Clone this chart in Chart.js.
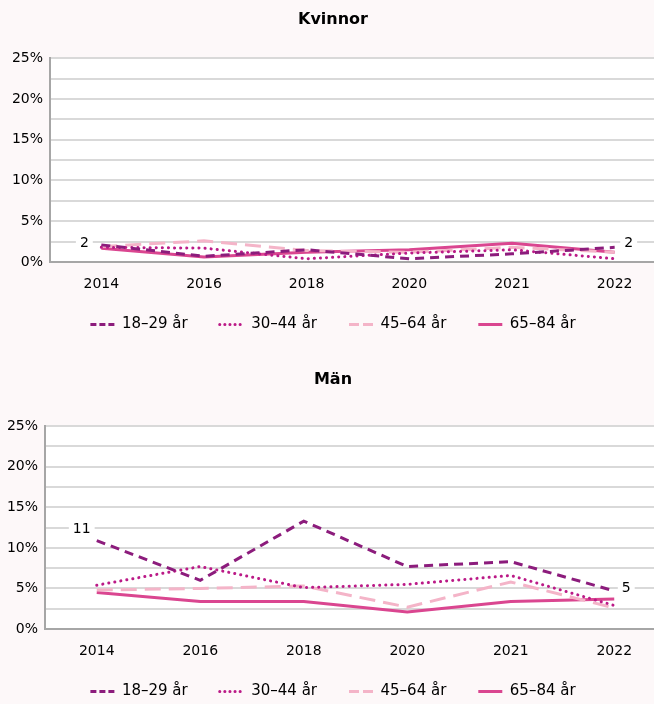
<!DOCTYPE html>
<html>
<head>
<meta charset="utf-8">
<script src="https://cdn.jsdelivr.net/npm/chart.js@4/dist/chart.umd.min.js"></script>
<style>
  html, body { margin: 0; padding: 0; }
  body { width: 654px; height: 704px; overflow: hidden; position: relative; background: #fdf8f9; }
  canvas { position: absolute; left: 0; }
  #c1 { top: 0; }
  #c2 { top: 360px; }
</style>
</head>
<body>
<canvas id="c1" width="666" height="342"></canvas>
<canvas id="c2" width="666" height="349"></canvas>
<script>
const years = ['2014', '2016', '2018', '2020', '2021', '2022'];
const seriesNames = ['18–29 år', '30–44 år', '45–64 år', '65–84 år'];

// Kvinnor (%)
const kvinnor_18_29 = [2.1, 0.7, 1.5, 0.4, 1.0, 1.8];
const kvinnor_30_44 = [1.8, 1.7, 0.4, 1.1, 1.5, 0.4];
const kvinnor_45_64 = [1.9, 2.6, 1.4, 1.2, 1.8, 1.2];
const kvinnor_65_84 = [1.7, 0.6, 1.2, 1.5, 2.3, 1.2];

// Män (%)
const man_18_29 = [10.9, 6.0, 13.3, 7.7, 8.3, 4.7];
const man_30_44 = [5.4, 7.7, 5.1, 5.5, 6.6, 2.9];
const man_45_64 = [4.8, 5.0, 5.3, 2.7, 5.8, 2.6];
const man_65_84 = [4.5, 3.4, 3.4, 2.1, 3.4, 3.7];

const yTicksMax = 25;
const yStep = 2.5;

const FONT = "'DejaVu Sans', Verdana, sans-serif";

const styles = [
  { color: '#8c1c7c', dash: [9, 6], legendDash: [6, 3], width: 3, cap: 'butt' },
  { color: '#bb1a87', dash: [0.1, 6], legendDash: [0.1, 5], width: 3, cap: 'round' },
  { color: '#f4b4c8', dash: [16, 8], legendDash: [10, 4], width: 3, cap: 'butt' },
  { color: '#da4690', dash: [], legendDash: [], width: 3, cap: 'butt' }
];

function makeDatasets(arrs) {
  return arrs.map((d, i) => ({
    label: seriesNames[i],
    data: d,
    borderColor: styles[i].color,
    backgroundColor: styles[i].color,
    borderDash: styles[i].dash,
    borderWidth: styles[i].width,
    borderCapStyle: styles[i].cap,
    pointRadius: 0,
    pointHoverRadius: 0,
    pointStyle: 'line',
    tension: 0,
    fill: false
  }));
}

const plotBg = {
  id: 'plotBg',
  beforeDraw(chart) {
    const a = chart.chartArea;
    const ctx = chart.ctx;
    ctx.save();
    ctx.fillStyle = '#ffffff';
    ctx.fillRect(a.left, a.top, a.right - a.left, a.bottom - a.top);
    ctx.restore();
  }
};

const endLabels = {
  id: 'endLabels',
  afterDatasetsDraw(chart, args, opts) {
    const ctx = chart.ctx;
    (opts.items || []).forEach(it => {
      const meta = chart.getDatasetMeta(it.ds);
      const pt = meta.data[it.idx];
      const v = chart.data.datasets[it.ds].data[it.idx];
      const txt = String(Math.round(v));
      ctx.save();
      ctx.font = '14px ' + FONT;
      const w = ctx.measureText(txt).width;
      const cx = pt.x + it.dx, cy = pt.y + it.dy;
      ctx.fillStyle = '#ffffff';
      ctx.fillRect(cx - w / 2 - 4, cy - 9, w + 8, 18);
      ctx.fillStyle = '#000000';
      ctx.textAlign = 'center';
      ctx.textBaseline = 'middle';
      ctx.fillText(txt, cx, cy);
      ctx.restore();
    });
  }
};

function makeChart(id, title, arrs, axisWidth, titlePad, labelItems) {
  return new Chart(document.getElementById(id), {
    type: 'line',
    data: { labels: years, datasets: makeDatasets(arrs) },
    plugins: [plotBg, endLabels],
    options: {
      responsive: false,
      animation: false,
      devicePixelRatio: 1,
      layout: { padding: 0 },
      plugins: {
        tooltip: { enabled: false },
        title: {
          display: true,
          text: title,
          color: '#000000',
          font: { family: FONT, size: 16, weight: 'bold' },
          padding: titlePad
        },
        legend: {
          position: 'bottom',
          labels: {
            color: '#000000',
            font: { family: FONT, size: 15 },
            usePointStyle: true,
            pointStyleWidth: 24,
            boxHeight: 15,
            padding: 32,
            generateLabels(chart) {
              return chart.data.datasets.map((ds, i) => ({
                text: ds.label,
                datasetIndex: i,
                fillStyle: ds.borderColor,
                strokeStyle: ds.borderColor,
                lineWidth: ds.borderWidth,
                lineDash: styles[i].legendDash,
                lineCap: ds.borderCapStyle,
                pointStyle: 'line',
                fontColor: '#000000',
                hidden: false
              }));
            }
          }
        },
        endLabels: { items: labelItems }
      },
      scales: {
        x: {
          type: 'category',
          offset: true,
          grid: { display: false, drawTicks: false },
          border: { display: true, color: '#a6a6a6', width: 2 },
          ticks: {
            color: '#000000',
            font: { family: FONT, size: 14 },
            padding: 14,
            maxRotation: 0,
            autoSkip: false
          },
          afterFit(s) {
            s.height = 23;
            s._computeLabelArea = function () { return undefined; };
          }
        },
        y: {
          min: 0,
          max: yTicksMax,
          grid: { color: '#d9d9d9', lineWidth: 2, drawTicks: false },
          border: { display: true, color: '#a6a6a6', width: 2 },
          ticks: {
            stepSize: yStep,
            autoSkip: false,
            color: '#000000',
            font: { family: FONT, size: 14 },
            padding: 7,
            callback(v) { return (v % 5 === 0) ? v + '%' : ''; }
          },
          afterFit(s) { s.width = axisWidth; }
        }
      }
    }
  });
}

makeChart('c1', 'Kvinnor',
  [kvinnor_18_29, kvinnor_30_44, kvinnor_45_64, kvinnor_65_84],
  50, { top: 10, bottom: 29 },
  [{ ds: 0, idx: 0, dx: -17, dy: -2 }, { ds: 0, idx: 5, dx: 14, dy: -4 }]);

makeChart('c2', 'Män',
  [man_18_29, man_30_44, man_45_64, man_65_84],
  45, { top: 10, bottom: 37 },
  [{ ds: 0, idx: 0, dx: -15, dy: -11 }, { ds: 0, idx: 5, dx: 12, dy: -3 }]);
</script>
</body>
</html>
